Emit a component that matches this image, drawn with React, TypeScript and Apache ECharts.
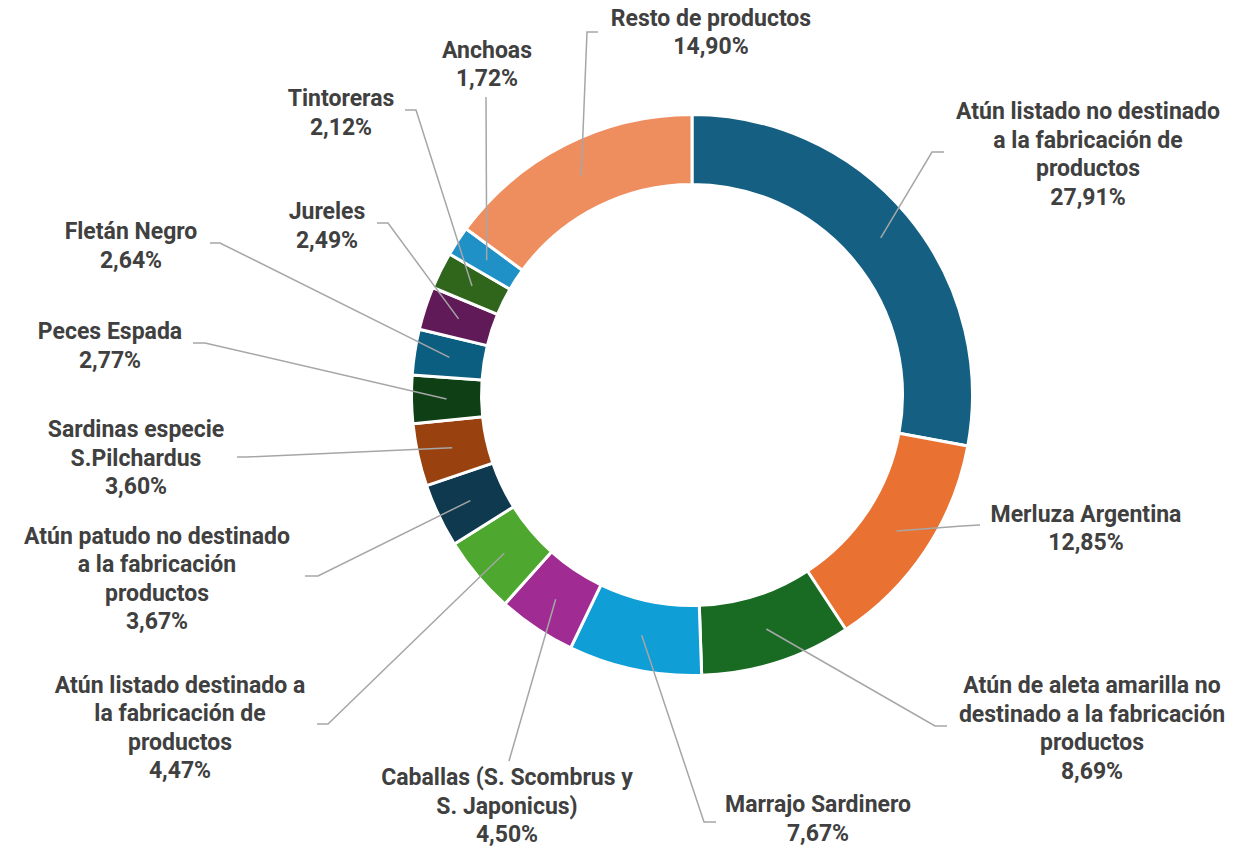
import React, { useEffect, useRef } from "react";
import * as echarts from "echarts";

const categories = [
  "Atún listado no destinado\na la fabricación de\nproductos",
  "Merluza Argentina",
  "Atún de aleta amarilla no\ndestinado a la fabricación\nproductos",
  "Marrajo Sardinero",
  "Caballas (S. Scombrus y\nS. Japonicus)",
  "Atún listado destinado a\nla fabricación de\nproductos",
  "Atún patudo no destinado\na la fabricación\nproductos",
  "Sardinas especie\nS.Pilchardus",
  "Peces Espada",
  "Fletán Negro",
  "Jureles",
  "Tintoreras",
  "Anchoas",
  "Resto de productos",
];

const values = [27.91, 12.85, 8.69, 7.67, 4.5, 4.47, 3.67, 3.6, 2.77, 2.64, 2.49, 2.12, 1.72, 14.9];

const colors = [
  "#156082",
  "#E97132",
  "#196B24",
  "#0F9ED5",
  "#A02B93",
  "#4EA72E",
  "#0E394F",
  "#99420F",
  "#0F3F15",
  "#0B5E7F",
  "#5F1A57",
  "#2F661C",
  "#1F91C6",
  "#EE8E5F",
];

// label block centres (layout only)
const labelCenterX = [1088, 1086, 1092, 818, 507, 180, 157, 136, 110, 131, 327, 341, 487, 711];
const labelCenterY = [154.5, 528.5, 728.5, 819, 806, 728, 579, 458, 346, 246, 226, 113, 64.5, 32.5];
const lineElbow: number[][] = [
  [932, 152], [962, 526], [935, 726], [704, 822], [509, 761], [328, 724], [318, 576],
  [247, 457], [205, 343], [220, 243], [388, 223], [416, 110], [486, 97], [587, 32],
];
const lineEnd: number[][] = [
  [944, 152], [980, 525], [947, 726], [716, 822], [509, 761], [317, 724], [305, 576],
  [237, 457], [193, 343], [210, 243], [377, 223], [405, 110], [486, 97], [598, 32],
];

const CX = 692;
const CY = 395;
const R_IN = 212;
const R_OUT = 279;

const fmt = (v: number) => v.toFixed(2).replace(".", ",") + "%";

export default function App() {
  const ref = useRef<HTMLDivElement>(null);
  useEffect(() => {
    const chart = echarts.init(ref.current!, null, { renderer: "svg" });
    const total = values.reduce((a, b) => a + b, 0);
    const mids: number[] = [];
    let acc = 0;
    values.forEach((v) => {
      mids.push(acc + v / 2);
      acc += v;
    });
    const anchor = (i: number) => {
      const ang = (mids[i] / total) * 2 * Math.PI;
      const r = (R_IN + R_OUT) / 2;
      return [CX + r * Math.sin(ang), CY - r * Math.cos(ang)];
    };
    const common = {
      type: "pie",
      center: [CX, CY],
      radius: [R_IN - 1.5, R_OUT + 1.5],
      startAngle: 90,
      clockwise: true,
      avoidLabelOverlap: false,
      emphasis: { disabled: true },
      silent: true,
    };
    chart.setOption({
      animation: false,
      backgroundColor: "#ffffff",
      series: [
        {
          ...common,
          z: 2,
          itemStyle: { borderColor: "#ffffff", borderWidth: 3 },
          data: categories.map((n, i) => ({ name: n, value: values[i], itemStyle: { color: colors[i] } })),
          label: { show: false },
          labelLine: { show: false },
        },
        {
          ...common,
          z: 5,
          itemStyle: { color: "rgba(0,0,0,0)", borderWidth: 0 },
          data: categories.map((n, i) => ({ name: n, value: values[i] })),
          label: {
            show: true,
            position: "outside",
            formatter: (p: any) => `${p.name}\n${fmt(p.value)}`,
            color: "#404040",
            fontFamily: "Roboto",
            fontWeight: "bold",
            fontSize: 23,
            lineHeight: 28.5,
            align: "center",
          },
          labelLine: { show: true, lineStyle: { color: "#A6A6A6", width: 1.5 } },
          labelLayout: (p: any) => {
            const i = p.dataIndex;
            return {
              x: labelCenterX[i],
              y: labelCenterY[i],
              align: "center",
              verticalAlign: "middle",
              labelLinePoints: [anchor(i), lineElbow[i], lineEnd[i]],
            };
          },
        },
      ],
    });
    return () => chart.dispose();
  }, []);
  return <div ref={ref} style={{ position: "fixed", left: 0, top: 0, width: 1256, height: 849 }} />;
}
